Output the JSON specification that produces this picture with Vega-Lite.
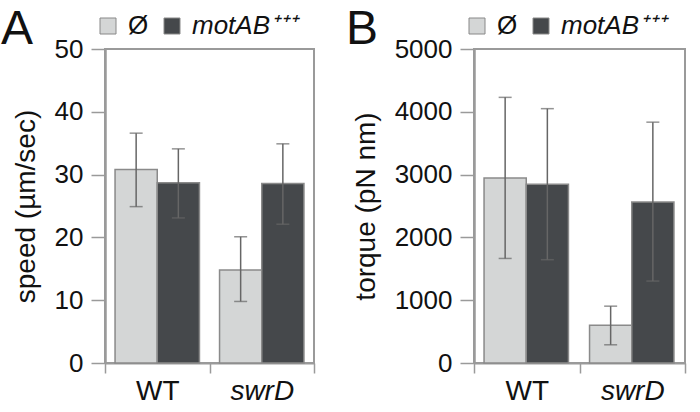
{
  "$schema": "https://vega.github.io/schema/vega-lite/v6.json",
  "padding": {"left": 0, "top": 5, "right": 4, "bottom": 4},
  "spacing": 29,
  "background": "white",
  "config": {
    "font": "Liberation Sans",
    "view": {"stroke": "#9a9a9a", "strokeWidth": 2},
    "axis": {"grid": false, "domainColor": "#9a9a9a", "domainWidth": 2.5, "tickColor": "#9a9a9a", "tickWidth": 1.5, "labelColor": "#111", "titleColor": "#111", "titleFontWeight": "normal"},
    "legend": {"labelColor": "#111"}
  },
  "datasets": {
    "speed": [
      {"genotype": "WT", "group": "Ø", "value": 30.8, "lo": 24.9, "hi": 36.6},
      {"genotype": "WT", "group": "motAB⁺⁺⁺", "value": 28.7, "lo": 23.1, "hi": 34.1},
      {"genotype": "swrD", "group": "Ø", "value": 14.8, "lo": 9.8, "hi": 20.1},
      {"genotype": "swrD", "group": "motAB⁺⁺⁺", "value": 28.6, "lo": 22.1, "hi": 34.9}
    ],
    "torque": [
      {"genotype": "WT", "group": "Ø", "value": 2945, "lo": 1665, "hi": 4230},
      {"genotype": "WT", "group": "motAB⁺⁺⁺", "value": 2845, "lo": 1645, "hi": 4050},
      {"genotype": "swrD", "group": "Ø", "value": 600, "lo": 290, "hi": 905},
      {"genotype": "swrD", "group": "motAB⁺⁺⁺", "value": 2565, "lo": 1305, "hi": 3835}
    ]
  },
  "resolve": {"scale": {"color": "independent", "y": "independent"}, "legend": {"color": "independent"}},
  "hconcat": [
    {
      "width": 209, "height": 314,
      "title": {"text": "A", "anchor": "start", "frame": "group", "fontSize": 48, "fontWeight": "normal", "color": "#111", "offset": -41, "dx": -104},
      "data": {"name": "speed"},
      "encoding": {
        "x": {"field": "genotype", "type": "nominal", "sort": ["WT", "swrD"],
          "scale": {"paddingInner": 0, "paddingOuter": 0},
          "axis": {"title": null, "labelAngle": 0, "tickBand": "extent", "tickSize": 10, "labelPadding": 4, "labelFontSize": 28, "domainWidth": 2,
            "labelFontStyle": {"condition": {"test": "datum.value == 'swrD'", "value": "italic"}, "value": "normal"}}},
        "xOffset": {"field": "group", "type": "nominal", "sort": ["Ø", "motAB⁺⁺⁺"], "scale": {"paddingInner": 0, "paddingOuter": 0.238}}
      },
      "layer": [
        {"mark": {"type": "bar", "stroke": "#8a8a8a", "strokeWidth": 1.5},
          "encoding": {
            "y": {"field": "value", "type": "quantitative", "scale": {"domain": [0, 50]},
              "axis": {"title": "speed (µm/sec)", "values": [0, 10, 20, 30, 40, 50], "format": "d", "tickSize": 14, "labelPadding": 8, "labelFontSize": 26, "titleFontSize": 28, "titlePadding": 14}},
            "color": {"field": "group", "type": "nominal", "sort": ["Ø", "motAB⁺⁺⁺"],
              "scale": {"range": ["#d4d6d6", "#45484b"]},
              "legend": {"orient": "none", "legendX": -10, "legendY": -36, "direction": "horizontal", "title": null, "symbolType": "square", "symbolSize": 256, "symbolStrokeColor": "#888", "symbolStrokeWidth": 1, "labelFontSize": 26, "labelOffset": 7, "columnPadding": 10, "padding": 0,
                "encode": {"labels": {"update": {"fontStyle": {"signal": "datum.label == 'Ø' ? 'normal' : 'italic'"}}}}}}
          }},
        {"mark": {"type": "rule", "color": "#666", "strokeWidth": 1.5},
          "encoding": {"y": {"field": "lo", "type": "quantitative"}, "y2": {"field": "hi"}}},
        {"mark": {"type": "tick", "color": "#666", "thickness": 1.5},
          "encoding": {"y": {"field": "lo", "type": "quantitative"}, "size": {"value": 13}}},
        {"mark": {"type": "tick", "color": "#666", "thickness": 1.5},
          "encoding": {"y": {"field": "hi", "type": "quantitative"}, "size": {"value": 13}}}
      ]
    },
    {
      "width": 211, "height": 314,
      "title": {"text": "B", "anchor": "start", "frame": "group", "fontSize": 48, "fontWeight": "normal", "color": "#111", "offset": -41, "dx": -128},
      "data": {"name": "torque"},
      "encoding": {
        "x": {"field": "genotype", "type": "nominal", "sort": ["WT", "swrD"],
          "scale": {"paddingInner": 0, "paddingOuter": 0},
          "axis": {"title": null, "labelAngle": 0, "tickBand": "extent", "tickSize": 10, "labelPadding": 4, "labelFontSize": 28, "domainWidth": 2,
            "labelFontStyle": {"condition": {"test": "datum.value == 'swrD'", "value": "italic"}, "value": "normal"}}},
        "xOffset": {"field": "group", "type": "nominal", "sort": ["Ø", "motAB⁺⁺⁺"], "scale": {"paddingInner": 0, "paddingOuter": 0.238}}
      },
      "layer": [
        {"mark": {"type": "bar", "stroke": "#8a8a8a", "strokeWidth": 1.5},
          "encoding": {
            "y": {"field": "value", "type": "quantitative", "scale": {"domain": [0, 5000]},
              "axis": {"title": "torque (pN nm)", "values": [0, 1000, 2000, 3000, 4000, 5000], "format": "d", "tickSize": 14, "labelPadding": 8, "labelFontSize": 26, "titleFontSize": 28, "titlePadding": 14}},
            "color": {"field": "group", "type": "nominal", "sort": ["Ø", "motAB⁺⁺⁺"],
              "scale": {"range": ["#d4d6d6", "#45484b"]},
              "legend": {"orient": "none", "legendX": -10, "legendY": -36, "direction": "horizontal", "title": null, "symbolType": "square", "symbolSize": 256, "symbolStrokeColor": "#888", "symbolStrokeWidth": 1, "labelFontSize": 26, "labelOffset": 7, "columnPadding": 10, "padding": 0,
                "encode": {"labels": {"update": {"fontStyle": {"signal": "datum.label == 'Ø' ? 'normal' : 'italic'"}}}}}}
          }},
        {"mark": {"type": "rule", "color": "#666", "strokeWidth": 1.5},
          "encoding": {"y": {"field": "lo", "type": "quantitative"}, "y2": {"field": "hi"}}},
        {"mark": {"type": "tick", "color": "#666", "thickness": 1.5},
          "encoding": {"y": {"field": "lo", "type": "quantitative"}, "size": {"value": 13}}},
        {"mark": {"type": "tick", "color": "#666", "thickness": 1.5},
          "encoding": {"y": {"field": "hi", "type": "quantitative"}, "size": {"value": 13}}}
      ]
    }
  ]
}
